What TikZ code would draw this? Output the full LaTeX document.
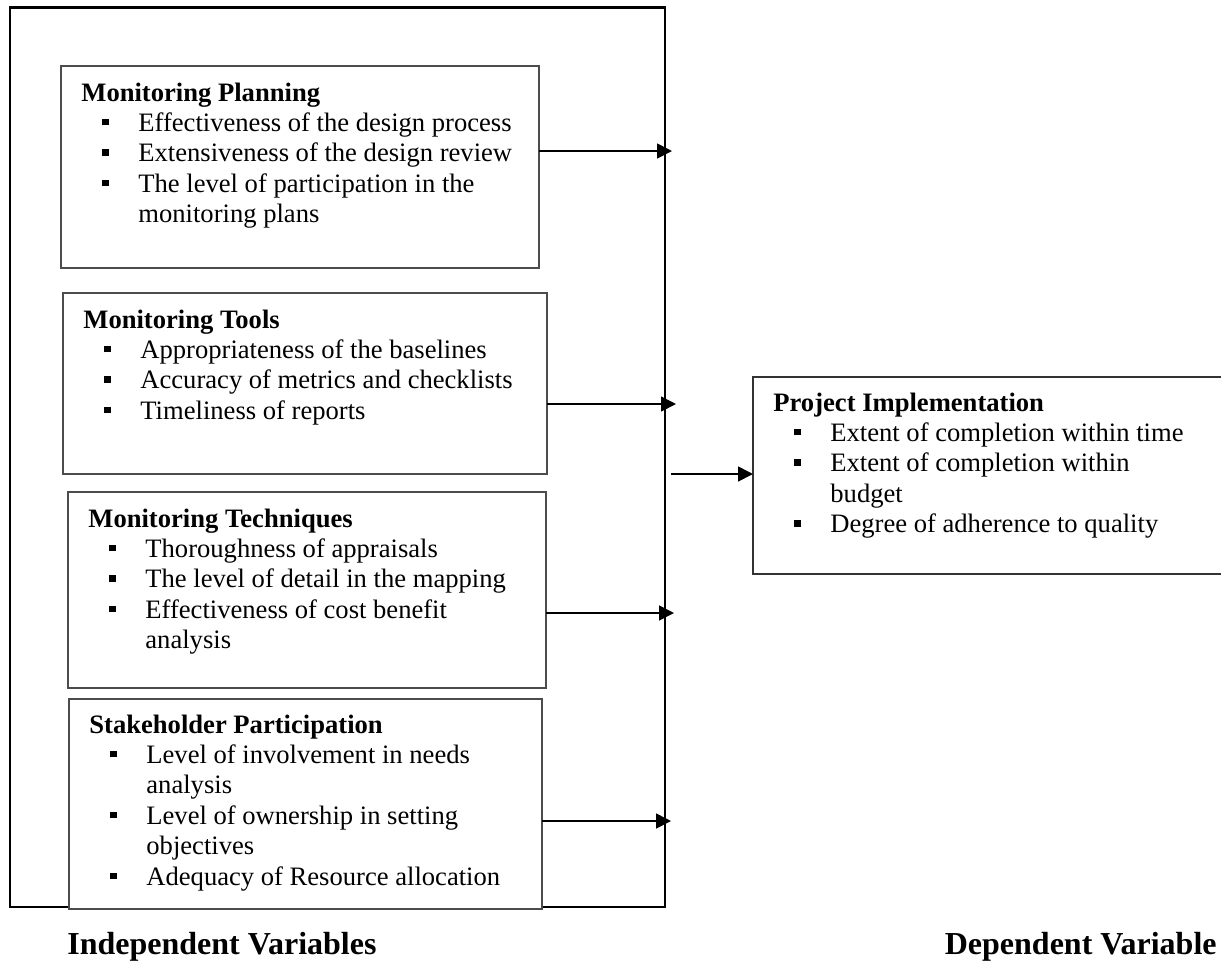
\documentclass[tikz,border=0pt]{standalone}
\usepackage{fontspec}
\setmainfont{Liberation Serif}
\usetikzlibrary{arrows.meta}
\newcommand{\bitem}{\makebox[28.5pt][l]{\hspace*{10.5pt}\rule[3pt]{3.2pt}{3.2pt}}}
\newcommand{\bcont}{\hspace*{28.5pt}}
\begin{document}
\begin{tikzpicture}[x=0.5pt,y=-0.5pt,
  frame/.style={draw=black, line width=1.3pt, anchor=north west, inner sep=0pt, outer sep=0pt, rectangle},
  vbox/.style={draw=black!70, line width=0.6pt, fill=white, anchor=north west, inner sep=0pt, outer sep=0pt, rectangle},
  pbox/.style={anchor=north west, inner sep=0pt, outer sep=0pt, rectangle},
  pline/.style={draw=black!80, line width=0.6pt},
  txt/.style={anchor=base west, inner sep=0pt, font=\fontsize{13.3}{15.2}\selectfont},
  lbl/.style={inner sep=0pt, font=\fontsize{16}{19}\selectfont\bfseries},
  arr/.style={line width=0.85pt, -{Triangle[length=7.5pt,width=7.5pt]}}]
\useasboundingbox (0,0) rectangle (1221,960);

% outer frame
\node[frame, minimum width=327.5pt, minimum height=449.75pt] (frame) at (10,7.5) {};

% independent variable boxes
\node[vbox, minimum width=239pt, minimum height=101pt] (B1) at (61,66) {};
\node[vbox, minimum width=242pt, minimum height=90.5pt] (B2) at (63,293) {};
\node[vbox, minimum width=239pt, minimum height=98pt] (B3) at (68,492) {};
\node[vbox, minimum width=236.5pt, minimum height=105pt] (B4) at (69,699) {};

% dependent variable box (right edge runs off the page)
\node[pbox, minimum width=234pt, minimum height=98.5pt] (P) at (753,377) {};
\draw[pline] (P.north east) -- (P.north west) -- (P.south west) -- (P.south east);

% texts
\node[txt] (T1) at (81,101) {\begin{tabular}[t]{@{}l@{}}
\textbf{Monitoring Planning}\\
\bitem Effectiveness of the design process\\
\bitem Extensiveness of the design review\\
\bitem The level of participation in the\\
\bcont monitoring plans
\end{tabular}};

\node[txt] (T2) at (83,328) {\begin{tabular}[t]{@{}l@{}}
\textbf{Monitoring Tools}\\
\bitem Appropriateness of the baselines\\
\bitem Accuracy of metrics and checklists\\
\bitem Timeliness of reports
\end{tabular}};

\node[txt] (T3) at (88,527) {\begin{tabular}[t]{@{}l@{}}
\textbf{Monitoring Techniques}\\
\bitem Thoroughness of appraisals\\
\bitem The level of detail in the mapping\\
\bitem Effectiveness of cost benefit\\
\bcont analysis
\end{tabular}};

\node[txt] (T4) at (89,733) {\begin{tabular}[t]{@{}l@{}}
\textbf{Stakeholder Participation}\\
\bitem Level of involvement in needs\\
\bcont analysis\\
\bitem Level of ownership in setting\\
\bcont objectives\\
\bitem Adequacy of Resource allocation
\end{tabular}};

\node[txt] (TP) at (773,411) {\begin{tabular}[t]{@{}l@{}}
\textbf{Project Implementation}\\
\bitem Extent of completion within time\\
\bitem Extent of completion within\\
\bcont budget\\
\bitem Degree of adherence to quality
\end{tabular}};

% arrows
\coordinate (e1) at (672,151);
\coordinate (e2) at (676,404);
\coordinate (e3) at (674,613);
\coordinate (e4) at (671,821);
\coordinate (m) at (671,474);
\draw[arr] (e1 -| B1.east) -- (e1);
\draw[arr] (e2 -| B2.east) -- (e2);
\draw[arr] (e3 -| B3.east) -- (e3);
\draw[arr] (e4 -| B4.east) -- (e4);
\draw[arr] (m) -- (m -| P.west);

% labels
\node[lbl, anchor=base west] (LI) at (67,954) {Independent Variables};
\node[lbl, anchor=base east] (LD) at (1217,954) {Dependent Variable};
\end{tikzpicture}
\end{document}
